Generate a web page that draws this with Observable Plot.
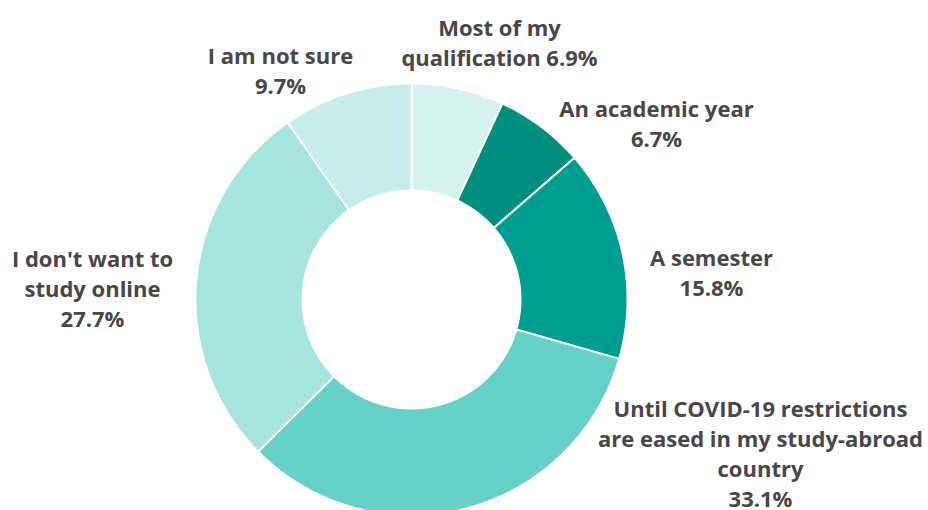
<!DOCTYPE html>
<html>
<head>
<meta charset="utf-8">
<script src="https://cdn.jsdelivr.net/npm/d3@7"></script>
<script src="https://cdn.jsdelivr.net/npm/@observablehq/plot@0.6"></script>
<style>
  html, body { margin: 0; padding: 0; background: #fff; }
  #chart { width: 928px; height: 510px; overflow: hidden; }
</style>
</head>
<body>
<div id="chart"></div>
<script>
// ---- data (clockwise from 12 o'clock) ----
const categories = [
  "Most of my qualification",
  "An academic year",
  "A semester",
  "Until COVID-19 restrictions are eased in my study-abroad country",
  "I don't want to study online",
  "I am not sure"
];
const values = [6.9, 6.7, 15.8, 33.1, 27.7, 9.7];
const labelLines = [
  "Most of my\nqualification 6.9%",
  "An academic year\n6.7%",
  "A semester\n15.8%",
  "Until COVID-19 restrictions\nare eased in my study-abroad\ncountry\n33.1%",
  "I don't want to\nstudy online\n27.7%",
  "I am not sure\n9.7%"
];
const colors = ["#d6f2ef", "#008f7e", "#009e92", "#64d0c6", "#a6e4de", "#c6ede9"];

// ---- layout (pixel units around the donut centre) ----
const W = 928, H = 510;
const cx = 411, cy = 299;           // centre in page pixels
const R = 216, r0 = 109;            // outer / inner radius
const labelPos = [                  // label block centres, offset from centre
  [88, 258], [245, 177], [300, 28], [349, -153], [-319, 12], [-131, 230]
];

// ---- build slice polygons with d3.pie ----
const pie = d3.pie().sort(null).value(d => d.value);
const arcs = pie(categories.map((c, i) => ({category: c, value: values[i]})));
const poly = [];
for (const a of arcs) {
  const n = Math.max(8, Math.ceil((a.endAngle - a.startAngle) / 0.01));
  const pts = [];
  for (let k = 0; k <= n; k++) {
    const t = a.startAngle + (a.endAngle - a.startAngle) * k / n;
    pts.push({x: R * Math.sin(t), y: R * Math.cos(t)});
  }
  for (let k = n; k >= 0; k--) {
    const t = a.startAngle + (a.endAngle - a.startAngle) * k / n;
    pts.push({x: r0 * Math.sin(t), y: r0 * Math.cos(t)});
  }
  pts.push(pts[0]);
  for (const p of pts) poly.push({...p, category: a.data.category});
}
const labels = categories.map((c, i) => ({
  category: c, text: labelLines[i], x: labelPos[i][0], y: labelPos[i][1]
}));

const chart = Plot.plot({
  width: W,
  height: H,
  margin: 0,
  style: {fontFamily: "'Open Sans', sans-serif", background: "#fff"},
  x: {type: "linear", domain: [-cx, W - cx], range: [0, W], axis: null},
  y: {type: "linear", domain: [-(H - cy), cy], range: [H, 0], axis: null},
  color: {domain: categories, range: colors},
  marks: [
    Plot.line(poly, {
      x: "x", y: "y", z: "category",
      fill: "category",
      stroke: "#fff", strokeWidth: 2, strokeLinejoin: "round",
      curve: "linear"
    }),
    Plot.text(labels, {
      x: "x", y: "y", text: "text",
      fontSize: 22, fontWeight: 700, lineHeight: 1.35,
      fill: "#474747", textAnchor: "middle"
    })
  ]
});
document.getElementById("chart").append(chart);
</script>
</body>
</html>
